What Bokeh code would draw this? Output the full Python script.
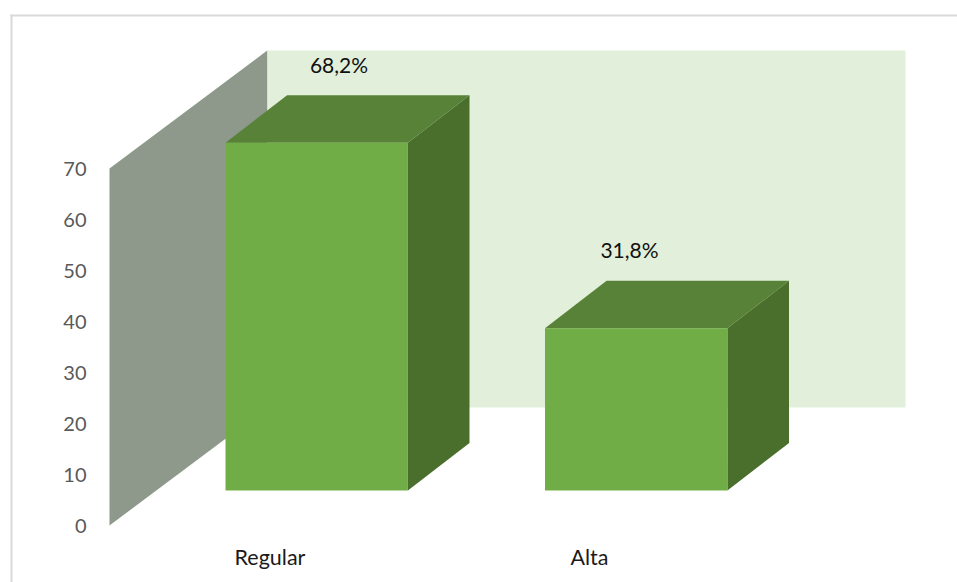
from bokeh.plotting import figure
from bokeh.models import Range1d, FixedTicker, ColumnDataSource
from bokeh.core.properties import value
from bokeh.embed import file_html
from bokeh.resources import INLINE

# ---- data ----
categories = ["Regular", "Alta"]
values = [68.2, 31.8]
value_labels = ["68,2%", "31,8%"]
y_ticks = [0, 10, 20, 30, 40, 50, 60, 70]

# ---- layout (pixels) ----
W, H = 957, 582
PX_PER_Y = 5.1
PX_PER_X = 319.5
Y0_PX = 525                          # pixel row of value 0
X0_PX = 269.5                        # pixel column of category 0 tick


def dx(px):
    return px / PX_PER_X


def dy(px):
    return px / PX_PER_Y


def xd(px):
    return (px - X0_PX) / PX_PER_X


def yd(px):
    return (Y0_PX - px) / PX_PER_Y


p = figure(width=W, height=H, output_backend="svg", toolbar_location=None,
           x_range=Range1d(xd(0), xd(W)),
           y_range=Range1d(yd(H), yd(0)),
           min_border_left=0, min_border_right=0, min_border_top=0,
           min_border_bottom=0, outline_line_color=None)
p.grid.visible = False

# y axis
ya = p.yaxis[0]
ya.fixed_location = xd(100)
ya.ticker = FixedTicker(ticks=y_ticks)
ya.axis_line_color = None
ya.major_tick_line_color = None
ya.minor_tick_line_color = None
ya.major_label_text_font = "Lato"
ya.major_label_text_font_size = "20px"
ya.major_label_text_color = "#595959"
ya.major_label_standoff = 8

# x axis
xa = p.xaxis[0]
xa.fixed_location = yd(530)
xa.ticker = FixedTicker(ticks=list(range(len(categories))))
xa.major_label_overrides = {i: c for i, c in enumerate(categories)}
xa.axis_line_color = None
xa.major_tick_line_color = None
xa.minor_tick_line_color = None
xa.major_label_text_font = "Lato"
xa.major_label_text_font_size = "21.5px"
xa.major_label_text_color = "#1a1a1a"
xa.major_label_standoff = 7

# chart area border: left and top edges
p.quad(left=[xd(10)], right=[xd(12)], bottom=[yd(H)], top=[yd(14)],
       fill_color="#D9D9D9", line_color=None)
p.quad(left=[xd(10)], right=[xd(W)], bottom=[yd(16)], top=[yd(14)],
       fill_color="#D9D9D9", line_color=None)

# walls
WALL_LEFT = xd(109)
WALL_RIGHT = xd(905)
WALL_TOP = y_ticks[-1]
D_X, D_Y = dx(157.7), dy(118)
back_x = WALL_LEFT + D_X

p.patch([back_x, WALL_RIGHT, WALL_RIGHT, back_x],
        [D_Y, D_Y, WALL_TOP + D_Y, WALL_TOP + D_Y],
        fill_color="#E2EFDA", line_color=None)
p.patch([WALL_LEFT, back_x, back_x, WALL_LEFT],
        [0, D_Y, WALL_TOP + D_Y, WALL_TOP],
        fill_color="#8E988B", line_color=None)

# bars
BAR_W = dx(182.4)
BAR_OFF = dx(-44.5)                  # bar left relative to its tick
BAR_DX, BAR_DY = dx(61.6), dy(47.5)
BASE = dy(35)

front_xs, front_ys, top_xs, top_ys, side_xs, side_ys = [], [], [], [], [], []
for i, v in enumerate(values):
    x0, x1 = i + BAR_OFF, i + BAR_OFF + BAR_W
    y0, y1 = BASE, BASE + v
    front_xs.append([x0, x1, x1, x0])
    front_ys.append([y0, y0, y1, y1])
    top_xs.append([x0, x1, x1 + BAR_DX, x0 + BAR_DX])
    top_ys.append([y1, y1, y1 + BAR_DY, y1 + BAR_DY])
    side_xs.append([x1, x1 + BAR_DX, x1 + BAR_DX, x1])
    side_ys.append([y0, y0 + BAR_DY, y1 + BAR_DY, y1])

p.patches(side_xs, side_ys, fill_color="#4A6E2B", line_color=None)
p.patches(top_xs, top_ys, fill_color="#578237", line_color=None)
p.patches(front_xs, front_ys, fill_color="#70AD47", line_color=None)

# value labels
label_shift = [dx(69), dx(40)]
src = ColumnDataSource(dict(
    x=[i + s for i, s in enumerate(label_shift)],
    y=[BASE + v + BAR_DY + dy(31) for v in values],
    t=value_labels))
p.text("x", "y", text="t", source=src, text_align="center", text_baseline="middle",
       text_font=value("Lato"), text_font_size="21px", text_color="#111111")

open("out.html", "w").write(file_html(p, INLINE))
